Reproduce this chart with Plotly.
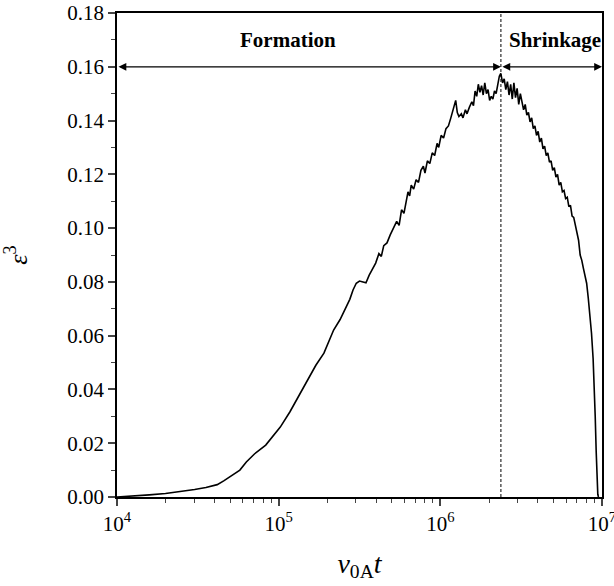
import math
import plotly.graph_objects as go

# --- data ---
log_t = [4.00, 4.10, 4.20, 4.30, 4.40, 4.48, 4.55, 4.62, 4.66, 4.70, 4.76, 4.80, 4.85, 4.92, 4.97,
         5.01, 5.07, 5.13, 5.19, 5.23, 5.28, 5.31, 5.34, 5.38, 5.41, 5.44, 5.46, 5.48, 5.50, 5.52,
         5.54, 5.56, 5.58, 5.60, 5.62, 5.635, 5.65, 5.67, 5.69, 5.71, 5.73, 5.745, 5.76, 5.775, 5.79,
         5.80, 5.81, 5.82, 5.835, 5.85, 5.865, 5.88, 5.895, 5.905, 5.92, 5.935, 5.95, 5.965, 5.98, 5.99,
         6.005, 6.02, 6.035, 6.05, 6.065, 6.08, 6.095, 6.105, 6.115, 6.13, 6.14, 6.155, 6.165, 6.18,
         6.195, 6.205, 6.215, 6.225, 6.235, 6.245, 6.255, 6.265, 6.275, 6.285, 6.295, 6.305, 6.315,
         6.325, 6.335, 6.345, 6.355, 6.365, 6.374, 6.385, 6.395, 6.405, 6.415, 6.425, 6.435, 6.445,
         6.455, 6.465, 6.475, 6.485, 6.495, 6.505, 6.515, 6.525, 6.535, 6.545, 6.555, 6.565, 6.575,
         6.585, 6.595, 6.605, 6.615, 6.625, 6.635, 6.645, 6.655, 6.665, 6.675, 6.685, 6.695, 6.705,
         6.715, 6.725, 6.735, 6.745, 6.755, 6.765, 6.775, 6.785, 6.795, 6.805, 6.815, 6.825, 6.835,
         6.845, 6.855, 6.865, 6.875, 6.885, 6.895, 6.905, 6.915, 6.925, 6.935, 6.945, 6.952, 6.958,
         6.964, 6.969, 6.974, 6.978]
eps3 = [0.0000, 0.0003, 0.0008, 0.0013, 0.0020, 0.0028, 0.0035, 0.0046, 0.0060, 0.0076, 0.0100, 0.0130,
        0.0160, 0.0193, 0.0230, 0.0260, 0.0317, 0.0380, 0.0448, 0.0490, 0.0535, 0.0575, 0.0621, 0.0660,
        0.0696, 0.0735, 0.0770, 0.0795, 0.0803, 0.0800, 0.0797, 0.0825, 0.0850, 0.0870, 0.0905, 0.0895,
        0.0935, 0.0945, 0.0975, 0.1000, 0.1025, 0.1010, 0.1068, 0.1055, 0.1105, 0.1135, 0.1120, 0.1160,
        0.1145, 0.1180, 0.1170, 0.1215, 0.1230, 0.1205, 0.1250, 0.1240, 0.1280, 0.1270, 0.1315, 0.1300,
        0.1345, 0.1335, 0.1370, 0.1380, 0.1410, 0.1445, 0.1475, 0.1430, 0.1415, 0.1425, 0.1410, 0.1440,
        0.1425, 0.1450, 0.1470, 0.1455, 0.1510, 0.1490, 0.1535, 0.1505, 0.1530, 0.1495, 0.1540, 0.1500,
        0.1515, 0.1475, 0.1490, 0.1480, 0.1510, 0.1500, 0.1540, 0.1565, 0.1575, 0.1540, 0.1555, 0.1515,
        0.1545, 0.1495, 0.1535, 0.1480, 0.1540, 0.1485, 0.1520, 0.1460, 0.1500, 0.1475, 0.1440, 0.1460,
        0.1420, 0.1430, 0.1395, 0.1410, 0.1370, 0.1380, 0.1345, 0.1360, 0.1320, 0.1335, 0.1295, 0.1305,
        0.1270, 0.1280, 0.1245, 0.1250, 0.1215, 0.1225, 0.1190, 0.1200, 0.1160, 0.1170, 0.1135, 0.1140,
        0.1110, 0.1115, 0.1080, 0.1085, 0.1045, 0.1040, 0.1010, 0.0990, 0.0955, 0.0900, 0.0880, 0.0850,
        0.0825, 0.0795, 0.0740, 0.0680, 0.0610, 0.0515, 0.0420, 0.0300, 0.0170, 0.0050, 0.0010, 0.0000]
t_values = [10 ** v for v in log_t]

boundary_t = 2.37e6          # formation / shrinkage boundary
arrow_level = 0.16
x_min, x_max = 1e4, 1e7
y_min, y_max = 0.0, 0.18
phase_labels = ["Formation", "Shrinkage"]
x_ticks = [1e4, 1e5, 1e6, 1e7]
x_tick_text = ["10<sup>4</sup>", "10<sup>5</sup>", "10<sup>6</sup>", "10<sup>7</sup>"]
y_ticks = [0.00, 0.02, 0.04, 0.06, 0.08, 0.10, 0.12, 0.14, 0.16, 0.18]

FONT = "'Liberation Serif', 'Times New Roman', Times, serif"
TICKFONT = dict(family=FONT, size=21, color="black")

fig = go.Figure()
fig.add_trace(go.Scatter(x=t_values, y=eps3, mode="lines",
                         line=dict(color="black", width=1.6), showlegend=False,
                         hoverinfo="skip"))
fig.add_trace(go.Scatter(x=[boundary_t, boundary_t], y=[y_min, y_max], mode="lines",
                         line=dict(color="black", width=1, dash="3px,2px"), showlegend=False,
                         hoverinfo="skip"))

lx_min, lx_max, lb = math.log10(x_min), math.log10(x_max), math.log10(boundary_t)
for a, b in [(lx_min, lb), (lb, lx_max)]:
    fig.add_annotation(x=b, y=arrow_level, ax=a, ay=arrow_level, xref="x", yref="y",
                       axref="x", ayref="y", showarrow=True, arrowside="end+start",
                       arrowhead=2, arrowsize=1.2, arrowwidth=1.3, arrowcolor="black", text="")

fig.add_annotation(x=5.055, y=0.1700, text="<b>" + phase_labels[0] + "</b>", showarrow=False,
                   font=dict(family=FONT, size=21, color="black"))
fig.add_annotation(x=6.71, y=0.1700, text="<b>" + phase_labels[1] + "</b>", showarrow=False,
                   font=dict(family=FONT, size=21, color="black"))

fig.update_layout(
    width=614, height=586,
    margin=dict(l=117, r=12, t=13, b=89),
    paper_bgcolor="white", plot_bgcolor="white",
    font=dict(family=FONT, size=21, color="black"),
    xaxis=dict(type="log", range=[lx_min, lx_max], tickvals=x_ticks, ticktext=x_tick_text,
               tickfont=TICKFONT, ticklabeloverflow="allow",
               showline=True, linecolor="black", linewidth=1.5, mirror=True, automargin=False,
               ticks="outside", ticklen=7, tickwidth=1.5, showgrid=False, zeroline=False,
               minor=dict(dtick="D1", ticks="outside", ticklen=4, tickwidth=1.2, showgrid=False),
               title=dict(text="<i>ν</i><sub>0A</sub><i>t</i>", font=dict(family=FONT, size=28),
                          standoff=18)),
    yaxis=dict(range=[y_min, y_max], tickvals=y_ticks, tickformat=".2f", tickfont=TICKFONT,
               ticklabeloverflow="allow",
               showline=True, linecolor="black", linewidth=1.5, mirror=True, automargin=False,
               ticks="outside", ticklen=7, tickwidth=1.5, showgrid=False, zeroline=False,
               minor=dict(dtick=0.01, ticks="outside", ticklen=4, tickwidth=1.2, showgrid=False),
               title=dict(text="<i>ε</i><sup>3</sup>", font=dict(family=FONT, size=26),
                          standoff=34)),
)

# remove the browser's default 8px body margin so the figure sits at the page origin
fig.write_html("out.html", config={"displayModeBar": False},
               post_script="document.body.style.margin='0';")
